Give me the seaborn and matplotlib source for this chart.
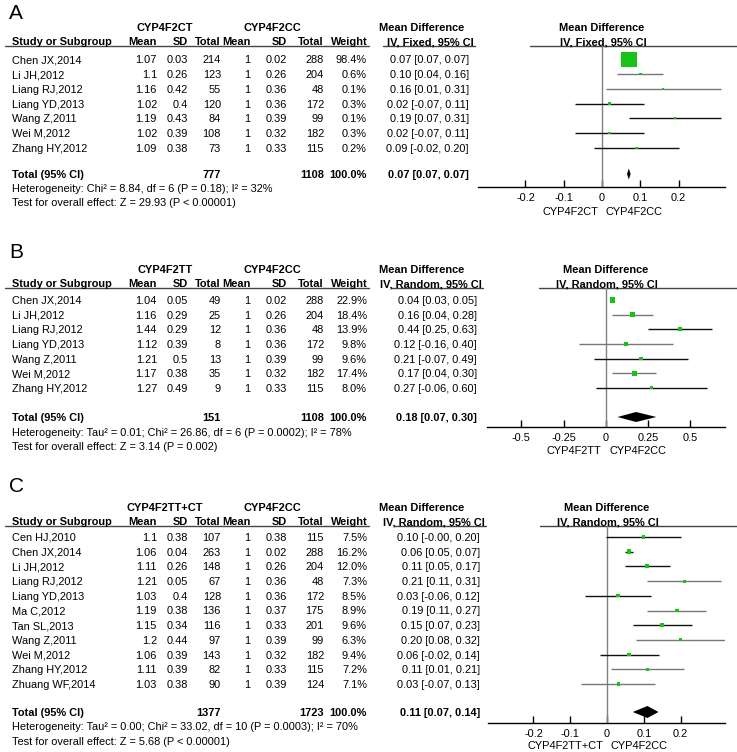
import numpy as np
import pandas as pd
import matplotlib
matplotlib.use("Agg")
import matplotlib.pyplot as plt
import seaborn as sns

sns.set_theme(style="white")
plt.rcParams['font.family'] = ['Liberation Sans', 'DejaVu Sans']

# ---------------- DATA ----------------
# Panel A : CYP4F2CT vs CYP4F2CC (fixed)
studies_A = ["Chen JX,2014", "Li JH,2012", "Liang RJ,2012", "Liang YD,2013",
             "Wang Z,2011", "Wei M,2012", "Zhang HY,2012"]
exp_mean_A = [1.07, 1.1, 1.16, 1.02, 1.19, 1.02, 1.09]
exp_sd_A = [0.03, 0.26, 0.42, 0.4, 0.43, 0.39, 0.38]
exp_n_A = [214, 123, 55, 120, 84, 108, 73]
ctl_mean_A = [1, 1, 1, 1, 1, 1, 1]
ctl_sd_A = [0.02, 0.26, 0.36, 0.36, 0.39, 0.32, 0.33]
ctl_n_A = [288, 204, 48, 172, 99, 182, 115]
weight_A = [98.4, 0.6, 0.1, 0.3, 0.1, 0.3, 0.2]
md_A = [0.07, 0.10, 0.16, 0.02, 0.19, 0.02, 0.09]
lo_A = [0.07, 0.04, 0.01, -0.07, 0.07, -0.07, -0.02]
hi_A = [0.07, 0.16, 0.31, 0.11, 0.31, 0.11, 0.20]
total_A = {"exp_n": 777, "ctl_n": 1108, "md": 0.07, "lo": 0.07, "hi": 0.07}
het_A = "Heterogeneity: Chi² = 8.84, df = 6 (P = 0.18); I² = 32%"
test_A = "Test for overall effect: Z = 29.93 (P < 0.00001)"
groups_A = ["CYP4F2CT", "CYP4F2CC"]
ticks_A = [-0.2, -0.1, 0, 0.1, 0.2]
ticklabels_A = ["-0.2", "-0.1", "0", "0.1", "0.2"]

# Panel B : CYP4F2TT vs CYP4F2CC (random)
studies_B = ["Chen JX,2014", "Li JH,2012", "Liang RJ,2012", "Liang YD,2013",
             "Wang Z,2011", "Wei M,2012", "Zhang HY,2012"]
exp_mean_B = [1.04, 1.16, 1.44, 1.12, 1.21, 1.17, 1.27]
exp_sd_B = [0.05, 0.29, 0.29, 0.39, 0.5, 0.38, 0.49]
exp_n_B = [49, 25, 12, 8, 13, 35, 9]
ctl_mean_B = [1, 1, 1, 1, 1, 1, 1]
ctl_sd_B = [0.02, 0.26, 0.36, 0.36, 0.39, 0.32, 0.33]
ctl_n_B = [288, 204, 48, 172, 99, 182, 115]
weight_B = [22.9, 18.4, 13.9, 9.8, 9.6, 17.4, 8.0]
md_B = [0.04, 0.16, 0.44, 0.12, 0.21, 0.17, 0.27]
lo_B = [0.03, 0.04, 0.25, -0.16, -0.07, 0.04, -0.06]
hi_B = [0.05, 0.28, 0.63, 0.40, 0.49, 0.30, 0.60]
total_B = {"exp_n": 151, "ctl_n": 1108, "md": 0.18, "lo": 0.07, "hi": 0.30}
het_B = "Heterogeneity: Tau² = 0.01; Chi² = 26.86, df = 6 (P = 0.0002); I² = 78%"
test_B = "Test for overall effect: Z = 3.14 (P = 0.002)"
groups_B = ["CYP4F2TT", "CYP4F2CC"]
ticks_B = [-0.5, -0.25, 0, 0.25, 0.5]
ticklabels_B = ["-0.5", "-0.25", "0", "0.25", "0.5"]

# Panel C : CYP4F2TT+CT vs CYP4F2CC (random)
studies_C = ["Cen HJ,2010", "Chen JX,2014", "Li JH,2012", "Liang RJ,2012",
             "Liang YD,2013", "Ma C,2012", "Tan SL,2013", "Wang Z,2011",
             "Wei M,2012", "Zhang HY,2012", "Zhuang WF,2014"]
exp_mean_C = [1.1, 1.06, 1.11, 1.21, 1.03, 1.19, 1.15, 1.2, 1.06, 1.11, 1.03]
exp_sd_C = [0.38, 0.04, 0.26, 0.05, 0.4, 0.38, 0.34, 0.44, 0.39, 0.39, 0.38]
exp_n_C = [107, 263, 148, 67, 128, 136, 116, 97, 143, 82, 90]
ctl_mean_C = [1, 1, 1, 1, 1, 1, 1, 1, 1, 1, 1]
ctl_sd_C = [0.38, 0.02, 0.26, 0.36, 0.36, 0.37, 0.33, 0.39, 0.32, 0.33, 0.39]
ctl_n_C = [115, 288, 204, 48, 172, 175, 201, 99, 182, 115, 124]
weight_C = [7.5, 16.2, 12.0, 7.3, 8.5, 8.9, 9.6, 6.3, 9.4, 7.2, 7.1]
md_C = [0.10, 0.06, 0.11, 0.21, 0.03, 0.19, 0.15, 0.20, 0.06, 0.11, 0.03]
lo_C = [-0.004, 0.05, 0.05, 0.11, -0.06, 0.11, 0.07, 0.08, -0.02, 0.01, -0.07]
hi_C = [0.20, 0.07, 0.17, 0.31, 0.12, 0.27, 0.23, 0.32, 0.14, 0.21, 0.13]
total_C = {"exp_n": 1377, "ctl_n": 1723, "md": 0.11, "lo": 0.07, "hi": 0.14}
het_C = "Heterogeneity: Tau² = 0.00; Chi² = 33.02, df = 10 (P = 0.0003); I² = 70%"
test_C = "Test for overall effect: Z = 5.68 (P < 0.00001)"
groups_C = ["CYP4F2TT+CT", "CYP4F2CC"]
ticks_C = [-0.2, -0.1, 0, 0.1, 0.2]
ticklabels_C = ["-0.2", "-0.1", "0", "0.1", "0.2"]

# ---------------- STYLE / LAYOUT (pixels) ----------------
W, H = 737, 752
FS = 7.9
GREEN = "#16c416"
GRAY = "#777777"
BLK = "#111111"

line_colors_A = [BLK, GRAY, GRAY, BLK, BLK, BLK, BLK]
line_colors_B = [BLK, GRAY, BLK, GRAY, BLK, GRAY, BLK]
line_colors_C = [BLK, BLK, BLK, GRAY, BLK, GRAY, BLK, GRAY, BLK, GRAY, GRAY]

lay_A = dict(label="A", label_y=12, h1=27, h2=41.5, line_y=46, row0=59.5, step=14.7,
             total_y=174, het_y=188, test_y=202, axis_y=187, lab_y=211,
             zero=602, unit=383, ax_left=478, ax_right=725, mid_right=469,
             model="IV, Fixed, 95% CI", box_k=1.6, box_min=2.4, dia_h=5.5)
lay_B = dict(label="B", label_y=251, h1=269, h2=283.5, line_y=288, row0=300, step=14.65,
             total_y=417, het_y=432, test_y=446, axis_y=427, lab_y=450,
             zero=605.7, unit=168.8, ax_left=487, ax_right=725, mid_right=477,
             model="IV, Random, 95% CI", box_k=1.1, box_min=3.0, dia_h=5)
lay_C = dict(label="C", label_y=485, h1=507.5, h2=521.5, line_y=526, row0=537, step=14.7,
             total_y=712, het_y=726.5, test_y=741, axis_y=723, lab_y=745,
             zero=607, unit=368, ax_left=488, ax_right=725, mid_right=480,
             model="IV, Random, 95% CI", box_k=1.15, box_min=3.0, dia_h=6)

fig = plt.figure(figsize=(W / 100, H / 100), dpi=100)
fig.patch.set_facecolor("white")
bg = fig.add_axes([0, 0, 1, 1])
bg.set_xlim(0, W)
bg.set_ylim(H, 0)
bg.axis("off")

CAP = 0.716 * 100 / 72  # cap height in px per pt


def T(x, y, s, ha="left", bold=False, size=FS):
    bg.text(x, y + CAP * size / 2, s, ha=ha, va="baseline", fontsize=size,
            fontweight="bold" if bold else "normal", color="black")


def fmt(v):
    return f"{v:g}"


def panel(lay, studies, em, esd, en, cm, csd, cn, wt, md, lo, hi, tot,
          het, test, groups, ticks, ticklabels, lcolors):
    # ---- left table ----
    T(9, lay["label_y"], lay["label"], size=15)
    T(165, lay["h1"], groups[0], ha="center", bold=True)
    T(272, lay["h1"], groups[1], ha="center", bold=True)
    T(464, lay["h1"], "Mean Difference", ha="right", bold=True)
    T(lay["zero"], lay["h1"], "Mean Difference", ha="center", bold=True)
    h2 = lay["h2"]
    T(12, h2, "Study or Subgroup", bold=True)
    T(157, h2, "Mean", ha="right", bold=True)
    T(188, h2, "SD", ha="right", bold=True)
    T(221, h2, "Total", ha="right", bold=True)
    T(251, h2, "Mean", ha="right", bold=True)
    T(287, h2, "SD", ha="right", bold=True)
    T(324, h2, "Total", ha="right", bold=True)
    T(368, h2, "Weight", ha="right", bold=True)
    T(lay["mid_right"] + 5, h2, lay["model"], ha="right", bold=True)
    T(lay["zero"] + 1, h2, lay["model"], ha="center", bold=True)
    ly = lay["line_y"]
    bg.plot([5, 369], [ly, ly], color="#444444", lw=1)
    bg.plot([lay["mid_right"] - 86, lay["mid_right"] + 6], [ly, ly], color="#444444", lw=1)
    bg.plot([lay["ax_left"] + 52, W], [ly, ly], color="#444444", lw=1)

    for i, s in enumerate(studies):
        y = lay["row0"] + i * lay["step"]
        T(12, y, s)
        T(157, y, fmt(em[i]), ha="right")
        T(188, y, fmt(esd[i]), ha="right")
        T(221, y, str(en[i]), ha="right")
        T(250, y, fmt(cm[i]), ha="right")
        T(287, y, fmt(csd[i]), ha="right")
        T(324, y, str(cn[i]), ha="right")
        T(367, y, f"{wt[i]:.1f}%", ha="right")
        T(lay["mid_right"], y, f"{md[i]:.2f} [{lo[i]:.2f}, {hi[i]:.2f}]", ha="right")

    ty = lay["total_y"]
    T(12, ty, "Total (95% CI)", bold=True)
    T(221, ty, str(tot["exp_n"]), ha="right", bold=True)
    T(324, ty, str(tot["ctl_n"]), ha="right", bold=True)
    T(367, ty, "100.0%", ha="right", bold=True)
    T(lay["mid_right"], ty, f"{tot['md']:.2f} [{tot['lo']:.2f}, {tot['hi']:.2f}]",
      ha="right", bold=True)
    T(12, lay["het_y"], het)
    T(12, lay["test_y"], test)

    # ---- forest axes ----
    x0, x1 = lay["ax_left"], lay["ax_right"]
    zero, unit = lay["zero"], lay["unit"]
    top, bot = lay["line_y"], lay["axis_y"]
    r0, step = lay["row0"], lay["step"]
    ax = fig.add_axes([x0 / W, 1 - bot / H, (x1 - x0) / W, (bot - top) / H])
    ax.set_facecolor("none")
    ax.set_xlim((x0 - zero) / unit, (x1 - zero) / unit)
    ax.set_ylim((bot - r0) / step, (top - r0) / step)

    idx = np.arange(len(studies))
    ax.axvline(0, color="#808080", lw=1, zorder=1)
    ax.hlines(idx, lo, hi, colors=lcolors, lw=1, zorder=2)
    side_px = np.maximum(lay["box_min"], lay["box_k"] * np.sqrt(np.array(wt)))
    sizes = (side_px * 0.72) ** 2
    df = pd.DataFrame({"md": md, "row": idx})
    sns.scatterplot(data=df, x="md", y="row", marker="s", s=sizes, color=GREEN,
                    linewidth=0, ax=ax, legend=False, zorder=3)

    tyi = (ty - r0) / step
    hh = lay["dia_h"] / step
    minw = 1.8 / unit
    dlo = min(tot["lo"], tot["md"] - minw)
    dhi = max(tot["hi"], tot["md"] + minw)
    ax.fill([dlo, tot["md"], dhi, tot["md"]], [tyi, tyi - hh, tyi, tyi + hh],
            color="black", lw=0, zorder=3)

    for sp in ["top", "left", "right"]:
        ax.spines[sp].set_visible(False)
    ax.spines["bottom"].set_color("black")
    ax.spines["bottom"].set_linewidth(1)
    ax.set_yticks([])
    ax.set_xticks(ticks)
    ax.set_xticklabels(ticklabels)
    ax.tick_params(axis="x", direction="in", length=5, width=1, labelsize=FS,
                   pad=4, colors="black", bottom=True)
    ax.set_xlabel("")
    ax.set_ylabel("")
    ax.grid(False)

    T(zero - 4, lay["lab_y"], groups[0], ha="right")
    T(zero + 4, lay["lab_y"], groups[1], ha="left")


panel(lay_A, studies_A, exp_mean_A, exp_sd_A, exp_n_A, ctl_mean_A, ctl_sd_A, ctl_n_A,
      weight_A, md_A, lo_A, hi_A, total_A, het_A, test_A, groups_A, ticks_A,
      ticklabels_A, line_colors_A)
panel(lay_B, studies_B, exp_mean_B, exp_sd_B, exp_n_B, ctl_mean_B, ctl_sd_B, ctl_n_B,
      weight_B, md_B, lo_B, hi_B, total_B, het_B, test_B, groups_B, ticks_B,
      ticklabels_B, line_colors_B)
panel(lay_C, studies_C, exp_mean_C, exp_sd_C, exp_n_C, ctl_mean_C, ctl_sd_C, ctl_n_C,
      weight_C, md_C, lo_C, hi_C, total_C, het_C, test_C, groups_C, ticks_C,
      ticklabels_C, line_colors_C)

fig.savefig("out.png", dpi=100, facecolor="white")
